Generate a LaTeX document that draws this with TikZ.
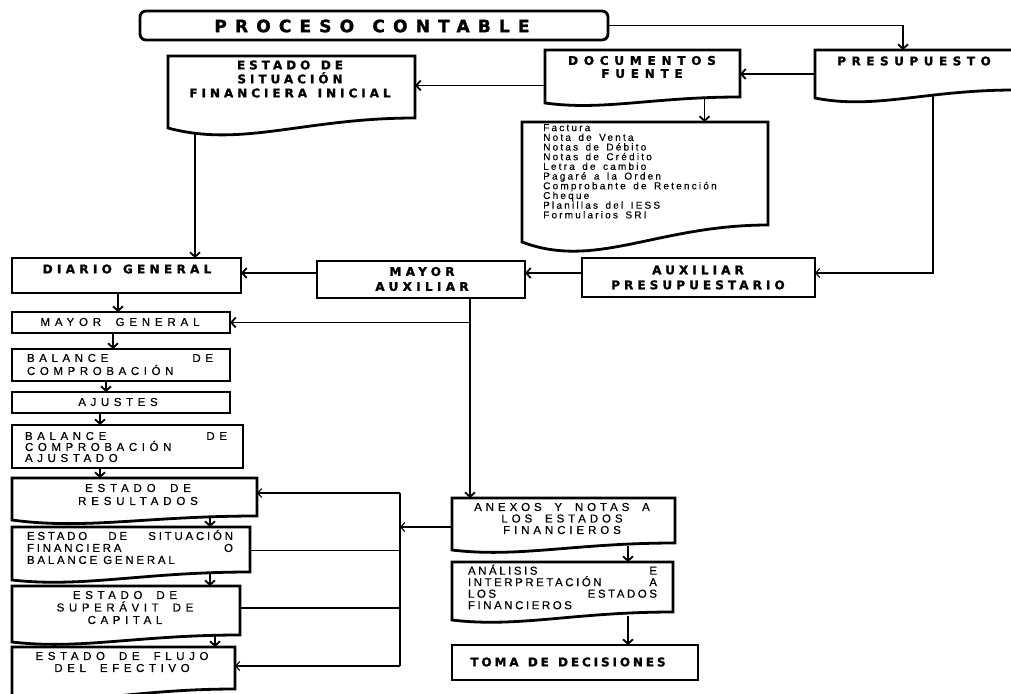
\documentclass[tikz,border=0pt]{standalone}
\usepackage{fontspec}
\setmainfont{Liberation Sans}
\newfontfamily\hvyfont{DejaVu Sans Bold}[LetterSpace=36,FakeBold=1.5,WordSpace=1.3]
\newfontfamily\ltfont{Liberation Sans}[LetterSpace=40,WordSpace=1.8,FakeBold=0.6]
\newfontfamily\smfont{Liberation Sans}[LetterSpace=22,WordSpace=1.5,FakeBold=0.3]
\usetikzlibrary{arrows.meta,calc}
\newcommand\docwave[3]{\draw[border] (#1.south west) -- (#1.north west) -- (#1.north east) -- ($(#1.south east)+(0,-#2)$) .. controls ($(#1.south west)!0.55!(#1.south east)+(0,-#2)$) and ($(#1.south west)!0.3!(#1.south east)+(0,#3)$) .. (#1.south west) -- cycle;}
\tikzset{
  border/.style={line width=2.8pt, line join=miter},
  frame/.style={draw, border, inner sep=0pt, outer sep=0pt},
  docn/.style={inner sep=0pt, outer sep=0pt},
  heavy/.style={font=\hvyfont\fontsize{12}{13}\selectfont, align=center, inner sep=0pt},
  light/.style={font=\ltfont\fontsize{11.5}{12}\selectfont, align=center, inner sep=0pt},
  small/.style={font=\smfont\fontsize{10}{9.7}\selectfont, align=left, inner sep=0pt},
  arr/.style={line width=1.8pt, -{Straight Barb[length=4.5pt,width=10pt,line width=1.8pt]}},
  tarr/.style={line width=1.1pt, -{Straight Barb[length=4pt,width=9pt,line width=1.1pt]}},
  tline/.style={line width=1.1pt},
}
\begin{document}
\begin{tikzpicture}[x=1pt,y=-1pt]
\useasboundingbox (0,0) rectangle (1011,693);
% top
\node[frame, rounded corners=6pt, minimum width=468pt, minimum height=29pt] (pc) at (374,25.5) {};
\node[heavy, font=\hvyfont\addfontfeature{LetterSpace=48}\fontsize{17}{19}\selectfont] (pc-t) at (372,26) {PROCESO CONTABLE};
\node[docn, minimum width=200pt, minimum height=48pt] (pre) at (915,74) {};
\docwave{pre}{8}{12}
\node[heavy, font=\hvyfont\addfontfeature{LetterSpace=46}\fontsize{12}{13}\selectfont] (pre-t) at (914,61) {PRESUPUESTO};
\node[docn, minimum width=195pt, minimum height=53pt] (docf) at (642.5,76.5) {};
\docwave{docf}{6}{8}
\node[heavy, font=\hvyfont\addfontfeature{LetterSpace=48}\fontsize{12}{13}\selectfont] (docf-t) at (642,67) {DOCUMENTOS\\FUENTE};
\node[docn, minimum width=247pt, minimum height=72pt] (esf) at (291.5,92) {};
\docwave{esf}{10}{20}
\node[heavy, font=\hvyfont\addfontfeature{LetterSpace=33}\fontsize{12}{14}\selectfont] (esf-t) at (290,79) {ESTADO DE\\SITUACIÓN\\FINANCIERA INICIAL};
\node[docn, minimum width=246pt, minimum height=120pt] (lst) at (645,182) {};
\docwave{lst}{17}{28}
\node[small, anchor=north west] (lst-t) at (543,124) {Factura\\Nota de Venta\\Notas de Débito\\Notas de Crédito\\Letra de cambio\\Pagaré a la Orden\\Comprobante de Retención\\Cheque\\Planillas del IESS\\Formularios SRI};
% middle row
\node[frame, minimum width=229pt, minimum height=35pt] (dg) at (126.5,275.5) {};
\node[heavy] (dg-t) at (127,269) {DIARIO GENERAL};
\node[frame, minimum width=208pt, minimum height=37pt] (ma) at (421,279.5) {};
\node[heavy, font=\hvyfont\fontsize{12}{15}\selectfont] (ma-t) at (422,279) {MAYOR\\AUXILIAR};
\node[frame, minimum width=233pt, minimum height=39pt] (ap) at (698.5,277.5) {};
\node[heavy, font=\hvyfont\addfontfeature{LetterSpace=34}\fontsize{12}{15}\selectfont] (ap-t) at (698,277.5) {AUXILIAR\\PRESUPUESTARIO};
% left column
\node[frame, minimum width=218pt, minimum height=21pt] (mg) at (121,322.5) {};
\node[light, font=\ltfont\addfontfeature{LetterSpace=42}\fontsize{11.5}{12}\selectfont] (mg-t) at (120,322) {MAYOR GENERAL};
\node[frame, minimum width=218pt, minimum height=32pt] (bc) at (121,365) {};
\node[light, font=\ltfont\fontsize{11.5}{13}\selectfont, text width=186pt, align=left] (bc-t) at (120,364.5) {BALANCE\hfill DE\\COMPROBACIÓN};
\node[frame, minimum width=218pt, minimum height=21pt] (aj) at (121,402.5) {};
\node[light] (aj-t) at (118,402) {AJUSTES};
\node[frame, minimum width=231pt, minimum height=43pt] (ba) at (127.5,446.5) {};
\node[light, font=\ltfont\fontsize{11.5}{11}\selectfont, text width=202pt, align=left] (ba-t) at (126,447) {BALANCE\hfill DE\\COMPROBACIÓN\\AJUSTADO};
\node[docn, minimum width=245pt, minimum height=42pt] (er) at (134.5,499) {};
\docwave{er}{4}{10}
\node[light, font=\ltfont\addfontfeature{LetterSpace=42}\fontsize{11.5}{13}\selectfont] (er-t) at (138,494.5) {ESTADO DE\\RESULTADOS};
\node[docn, minimum width=238pt, minimum height=53pt] (sf) at (131,553.5) {};
\docwave{sf}{8}{8}
\node[light, font=\ltfont\addfontfeature{LetterSpace=24}\fontsize{11.5}{12}\selectfont, text width=206pt, align=left] (sf-t) at (130,547) {ESTADO\hfill DE\hfill SITUACIÓN\\FINANCIERA\hfill O\\BALANCE\hspace{6pt}GENERAL};
\node[docn, minimum width=228pt, minimum height=56pt] (sc) at (126,614) {};
\docwave{sc}{7}{8}
\node[light, font=\ltfont\fontsize{11.5}{12.5}\selectfont] (sc-t) at (125,607.5) {ESTADO DE\\SUPERÁVIT DE\\CAPITAL};
\node[docn, minimum width=223pt, minimum height=51pt] (fe) at (123.5,672.5) {};
\docwave{fe}{9}{8}
\node[light] (fe-t) at (122,662) {ESTADO DE FLUJO\\DEL EFECTIVO};
% right lower column
\node[docn, minimum width=223pt, minimum height=52pt] (an) at (563.5,524) {};
\docwave{an}{7}{8}
\node[light, font=\ltfont\addfontfeature{LetterSpace=34}\fontsize{11.5}{11.5}\selectfont] (an-t) at (562,518.5) {ANEXOS Y NOTAS A\\LOS ESTADOS\\FINANCIEROS};
\node[docn, minimum width=221pt, minimum height=58pt] (aa) at (562.5,591) {};
\docwave{aa}{8}{8}
\node[light, font=\ltfont\addfontfeature{LetterSpace=22}\fontsize{11.5}{11.5}\selectfont, text width=189pt, align=left] (aa-t) at (562.5,587) {ANÁLISIS\hfill E\\INTERPRETACIÓN\hfill A\\LOS\hfill ESTADOS\\FINANCIEROS};
\node[frame, minimum width=246pt, minimum height=35pt] (tm) at (575,662.5) {};
\node[heavy, font=\hvyfont\addfontfeature{LetterSpace=24}\fontsize{12}{13}\selectfont] (tm-t) at (568,662) {TOMA DE DECISIONES};
% connectors top
\coordinate (p-in) at ([xshift=-12pt]pre.north);
\draw[arr] (pc.east) -| (p-in);
\draw[arr] (pre.west) -- (pre.west -| docf.east);
\coordinate (d-out) at ([yshift=-9pt]docf.west);
\draw[arr] (d-out) -- (d-out -| esf.east);
\coordinate (d-dn) at ([xshift=62pt,yshift=6pt]docf.south);
\draw[arr] (d-dn) -- (d-dn |- lst.north);
\coordinate (e-dn) at ([xshift=27pt,yshift=-5pt]esf.south west);
\draw[arr] (e-dn) -- (e-dn |- dg.north);
\coordinate (p-dn) at ([xshift=18pt,yshift=3pt]pre.south);
\coordinate (ap-in) at ([yshift=4.5pt]ap.east);
\draw[tarr] (p-dn) |- (ap-in);
\coordinate (ap-out) at ([yshift=4.5pt]ap.west);
\draw[arr] (ap-out) -- (ap-out -| ma.east);
\coordinate (ma-out) at ([yshift=6.5pt]ma.west);
\draw[arr] (ma-out) -- (ma-out -| dg.east);
% left chain
\draw[arr] ([xshift=-8.5pt]dg.south) -- ([xshift=-3pt]mg.north);
\draw[arr] ([xshift=-8pt]mg.south) -- ([xshift=-8pt]bc.north);
\draw[arr] ([xshift=-15pt]bc.south) -- ([xshift=-15pt]aj.north);
\draw[arr] ([xshift=-21pt]aj.south) -- ([xshift=-27.5pt]ba.north);
\draw[arr] ([xshift=-27.5pt]ba.south) -- ([xshift=-34.5pt]er.north);
\draw[arr] ([xshift=75.5pt,yshift=4pt]er.south) -- ([xshift=79pt]sf.north);
\draw[arr] ([xshift=79pt,yshift=6pt]sf.south) -- ([xshift=84pt]sc.north);
\draw[arr] ([xshift=89pt,yshift=6pt]sc.south) -- ([xshift=91.5pt]fe.north);
% mayor auxiliar trunk
\coordinate (m1) at ([xshift=49pt]ma.south);
\draw[arr] (m1) -- (m1 |- an.north);
\draw[arr] (m1 |- mg.east) -- (mg.east);
% bus
\coordinate (bus) at (400,0);
\coordinate (r1) at ([yshift=6pt]er.east);
\coordinate (r2) at ([yshift=3pt]sf.east);
\coordinate (r3) at ([yshift=6pt]sc.east);
\coordinate (r4) at ([yshift=6.5pt]fe.east);
\draw[tline] (r1 -| bus) -- (r4 -| bus);
\draw[tarr] (r1 -| bus) -- (r1);
\draw[tline] (r2) -- (r2 -| bus);
\draw[tline] (r3) -- (r3 -| bus);
\draw[tarr] (r4 -| bus) -- (r4);
\coordinate (an-out) at ([yshift=-3pt]an.west);
\draw[tarr] (an-out) -- (an-out -| bus);
% analysis chain
\draw[arr] ([xshift=64.5pt,yshift=4pt]an.south) -- ([xshift=65.5pt]aa.north);
\draw[arr] ([xshift=65.5pt,yshift=4pt]aa.south) -- ([xshift=53pt]tm.north);
\end{tikzpicture}
\end{document}
